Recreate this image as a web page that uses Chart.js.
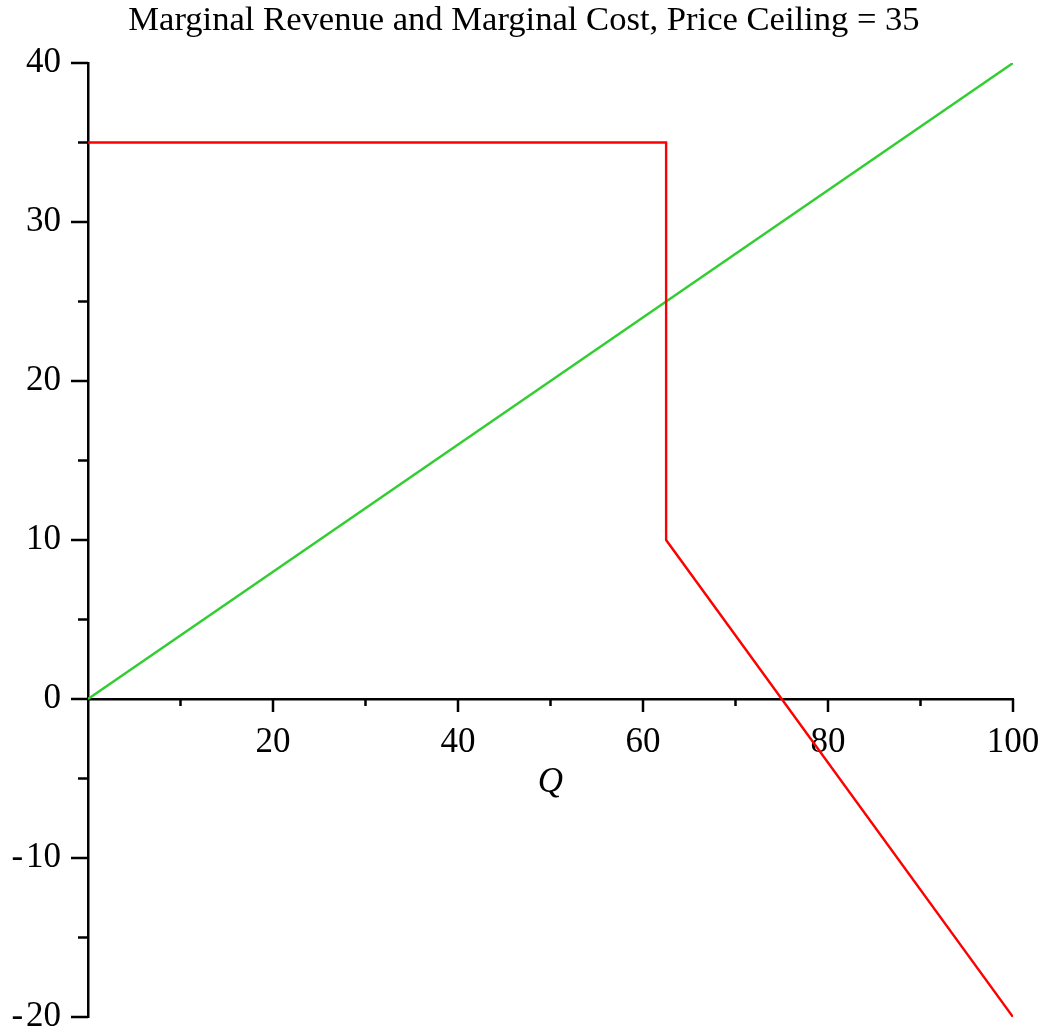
<!DOCTYPE html>
<html lang="en">
<head>
    <meta charset="UTF-8">
    <title>Marginal Revenue and Marginal Cost</title>
    <script src="https://cdn.jsdelivr.net/npm/chart.js"></script>
    <style>
        html, body { margin: 0; padding: 0; background: #fff; }
        #wrap { width: 1042px; height: 1036px; }
    </style>
</head>
<body>
    <div id="wrap"><canvas id="mrmc"></canvas></div>

    <script>
        // Marginal revenue (red) with the price ceiling at 35
        const mrQ = [0, 62.5, 62.5, 100];
        const mrValues = [35, 35, 10, -20];
        // Marginal cost (green)
        const mcQ = [0, 100];
        const mcValues = [0, 40];

        const xTickLabels = [20, 40, 60, 80, 100];
        const yTickLabels = [-20, -10, 0, 10, 20, 30, 40];

        const chartTitle = 'Marginal Revenue and Marginal Cost, Price Ceiling = 35';
        const serif = '"Liberation Serif", "DejaVu Serif", serif';

        function toPoints(xs, ys) {
            return xs.map((x, i) => ({ x: x, y: ys[i] }));
        }

        // no extra room for half labels, the padding below handles that
        function noPadding(scale) {
            scale.paddingLeft = 0;
            scale.paddingRight = 0;
            scale.paddingTop = 0;
            scale.paddingBottom = 0;
        }

        // title, tick marks along both axes (major + minor) and the Q label
        const axisTicks = {
            id: 'axisTicks',
            afterDraw(chart) {
                const ctx = chart.ctx;
                const xs = chart.scales.x;
                const ys = chart.scales.y;
                const y0 = ys.getPixelForValue(0);
                const x0 = xs.getPixelForValue(0);
                ctx.save();
                ctx.strokeStyle = '#000';
                ctx.lineWidth = 2.5;
                ctx.beginPath();
                for (let v = 10; v <= 100; v += 10) {
                    const px = xs.getPixelForValue(v);
                    const len = v % 20 === 0 ? 13 : 7;
                    ctx.moveTo(px, y0);
                    ctx.lineTo(px, y0 + len);
                }
                for (let v = -20; v <= 40; v += 5) {
                    const py = ys.getPixelForValue(v);
                    const len = v % 10 === 0 ? 17 : 10;
                    ctx.moveTo(x0 - len, py);
                    ctx.lineTo(x0, py);
                }
                ctx.stroke();

                ctx.fillStyle = '#000';
                ctx.textAlign = 'center';
                ctx.textBaseline = 'middle';

                ctx.font = '34.6px ' + serif;
                ctx.fillText(chartTitle, 524, 21);

                ctx.font = 'italic 35px ' + serif;
                ctx.fillText('Q', (xs.left + xs.right) / 2, y0 + 84);
                ctx.restore();
            }
        };

        new Chart(document.getElementById('mrmc'), {
            type: 'scatter',
            data: {
                datasets: [
                    {
                        label: 'MR',
                        data: toPoints(mrQ, mrValues),
                        showLine: true,
                        borderColor: '#ff0000',
                        borderWidth: 2.4,
                        pointRadius: 0,
                        tension: 0
                    },
                    {
                        label: 'MC',
                        data: toPoints(mcQ, mcValues),
                        showLine: true,
                        borderColor: '#32cd32',
                        borderWidth: 2.4,
                        pointRadius: 0,
                        tension: 0
                    }
                ]
            },
            options: {
                responsive: true,
                maintainAspectRatio: false,
                animation: false,
                layout: { padding: { top: 63, right: 29, bottom: 19, left: 0 } },
                plugins: {
                    legend: { display: false },
                    tooltip: { enabled: false },
                    title: { display: false }
                },
                scales: {
                    x: {
                        type: 'linear',
                        min: 0,
                        max: 100,
                        position: { y: 0 },
                        afterFit(scale) { scale.height = 0; noPadding(scale); },
                        grid: { drawOnChartArea: false, drawTicks: false },
                        border: { display: true, color: '#000', width: 2.5 },
                        ticks: {
                            stepSize: 20,
                            padding: 23,
                            color: '#000',
                            font: { family: serif, size: 35 },
                            maxRotation: 0,
                            callback: v => xTickLabels.includes(v) ? String(v) : ''
                        }
                    },
                    y: {
                        type: 'linear',
                        min: -20,
                        max: 40,
                        position: 'left',
                        afterFit(scale) { scale.width = 88; noPadding(scale); },
                        grid: { drawOnChartArea: false, drawTicks: false },
                        border: { display: true, color: '#000', width: 2.5 },
                        ticks: {
                            stepSize: 10,
                            padding: 27,
                            color: '#000',
                            font: { family: serif, size: 35 },
                            callback: v => yTickLabels.includes(v)
                                ? (v < 0 ? '-\u200A' + Math.abs(v) : String(v))
                                : ''
                        }
                    }
                }
            },
            plugins: [axisTicks]
        });
    </script>
</body>
</html>
